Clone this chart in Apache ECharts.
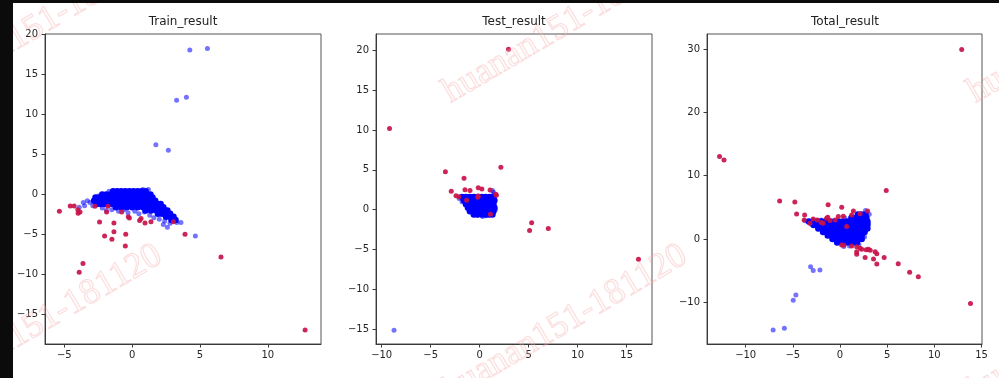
<!DOCTYPE html>
<html>
<head>
<meta charset="utf-8">
<script src="https://cdn.jsdelivr.net/npm/echarts@6/dist/echarts.min.js"></script>
<style>
html, body { margin: 0; padding: 0; background: #fff; }
#chart { width: 999px; height: 378px; }
</style>
</head>
<body>
<div id="chart"></div>
<script>
// titles and tick labels
const titles = ['Train_result', 'Test_result', 'Total_result'];
const trainXTicks = [-5, 0, 5, 10];
const trainYTicks = [-15, -10, -5, 0, 5, 10, 15, 20];
const testXTicks = [-10, -5, 0, 5, 10, 15];
const testYTicks = [-15, -10, -5, 0, 5, 10, 15, 20];
const totalXTicks = [-10, -5, 0, 5, 10, 15];
const totalYTicks = [-10, 0, 10, 20, 30];

// Train: dense blue body, lighter blue points, red points
const trainBlueCore = [
  [-1.4,0.4],[-1.1,0.4],[-0.8,0.4],[-0.5,0.4],[-0.2,0.4],[0.1,0.4],[0.4,0.4],[0.7,0.4],[1.0,0.4],
  [-2.2,0],[-1.9,0],[-1.6,0],[-1.3,0],[-1.0,0],[-0.7,0],[-0.4,0],[-0.1,0],[0.2,0],[0.5,0],[0.8,0],[1.1,0],[1.35,0],
  [-2.7,-0.4],[-2.4,-0.4],[-2.1,-0.4],[-1.8,-0.4],[-1.5,-0.4],[-1.2,-0.4],[-0.9,-0.4],[-0.6,-0.4],[-0.3,-0.4],[0,-0.4],[0.3,-0.4],[0.6,-0.4],[0.9,-0.4],[1.2,-0.4],[1.5,-0.4],
  [-2.8,-0.8],[-2.5,-0.8],[-2.2,-0.8],[-1.9,-0.8],[-1.6,-0.8],[-1.3,-0.8],[-1.0,-0.8],[-0.7,-0.8],[-0.4,-0.8],[-0.1,-0.8],[0.2,-0.8],[0.5,-0.8],[0.8,-0.8],[1.1,-0.8],[1.4,-0.8],[1.7,-0.8],
  [-2.6,-1.2],[-2.3,-1.2],[-2.0,-1.2],[-1.7,-1.2],[-1.4,-1.2],[-1.1,-1.2],[-0.8,-1.2],[-0.5,-1.2],[-0.2,-1.2],[0.1,-1.2],[0.4,-1.2],[0.7,-1.2],[1.0,-1.2],[1.3,-1.2],[1.6,-1.2],[1.9,-1.2],[2.1,-1.2],
  [-1.2,-1.6],[-0.8,-1.6],[-0.4,-1.6],[0,-1.6],[0.4,-1.6],[0.8,-1.6],[1.1,-1.6],[1.4,-1.6],[1.7,-1.6],[2.0,-1.6],[2.3,-1.6],
  [1.0,-2.0],[1.4,-2.0],[1.8,-2.0],[2.1,-2.0],[2.4,-2.0],[2.6,-2.0],
  [1.9,-2.4],[2.2,-2.4],[2.5,-2.4],[2.8,-2.4],
  [2.5,-2.8],[2.8,-2.8],[3.05,-2.8],
  [2.9,-3.2],[3.2,-3.2]
];
const trainBlue = [
  [4.25,18.0],[5.55,18.2],[3.28,11.75],[4.0,12.1],[1.75,6.2],[2.67,5.5],[4.66,-5.2],
  [-3.6,-1.0],[-3.1,-1.0],[-3.5,-1.4],[-3.3,-0.8],[-2.9,-1.4],[-3.9,-1.6],[-2.2,-1.7],[-1.9,-2.0],
  [-1.5,-1.9],[-1.0,-2.1],[-0.6,-1.9],[-0.3,-2.3],[0.2,-2.1],[0.5,-2.4],[0.9,-2.2],[1.3,-2.6],
  [1.6,-2.9],[2.0,-3.1],[2.4,-3.3],[2.8,-3.6],[3.3,-3.5],[3.6,-3.5],[2.3,-3.75],[2.6,-4.1],
  [-2.5,-0.2],[-1.7,0.4],[1.2,0.6],[0.8,0.6]
];
const trainRed = [
  [-5.36,-2.1],[-4.56,-1.46],[-4.27,-1.46],[-4.0,-1.9],[-3.98,-2.35],[-3.84,-2.18],[-2.74,-1.47],
  [-2.4,-3.45],[-2.03,-5.2],[-1.49,-5.58],[-1.34,-4.67],[-1.34,-3.55],[-0.47,-4.96],[-0.5,-6.42],
  [-3.9,-9.7],[-3.62,-8.6],[-1.88,-2.18],[-1.78,-1.47],[-0.77,-2.18],[-0.28,-2.8],[-0.2,-2.95],
  [0.55,-3.25],[0.66,-3.0],[0.95,-3.55],[1.39,-3.42],[3.05,-3.42],[3.9,-4.96],[6.55,-7.8],[12.75,-16.9]
];

// Test
const testBlueCore = [
  [-1.8,1.6],[-1.4,1.6],[-1.0,1.6],[-0.6,1.6],[-0.2,1.6],[0.2,1.6],[0.6,1.6],[1.0,1.6],[1.4,1.6],
  [-1.6,1.15],[-1.2,1.15],[-0.8,1.15],[-0.4,1.15],[0,1.15],[0.4,1.15],[0.8,1.15],[1.2,1.15],[1.5,1.15],
  [-1.4,0.7],[-1.0,0.7],[-0.6,0.7],[-0.2,0.7],[0.2,0.7],[0.6,0.7],[1.0,0.7],[1.4,0.7],
  [-1.2,0.25],[-0.8,0.25],[-0.4,0.25],[0,0.25],[0.4,0.25],[0.8,0.25],[1.2,0.25],[1.5,0.25],
  [-1.0,-0.2],[-0.6,-0.2],[-0.2,-0.2],[0.2,-0.2],[0.6,-0.2],[1.0,-0.2],[1.4,-0.2],
  [-0.6,-0.6],[-0.2,-0.6],[0.2,-0.6],[0.6,-0.6],[1.0,-0.6],[1.3,-0.6]
];
const testBlue = [
  [-8.74,-15.13],[-2.1,1.4],[-1.5,1.2],[-1.8,1.0],[1.3,2.4],[1.4,2.2],[1.5,1.9],[1.6,0.0],
  [0.7,-0.75],[0.3,-0.85],[-0.3,-0.7]
];
const testRed = [
  [2.94,20.16],[-9.2,10.2],[-3.5,4.78],[-1.6,3.95],[2.16,5.34],[-2.9,2.32],[-2.42,1.76],[-2.12,1.63],
  [-1.5,2.5],[-0.99,2.42],[-0.15,2.76],[0.22,2.6],[-0.14,1.72],[-0.2,1.55],[1.06,2.47],[1.7,1.82],
  [1.65,1.95],[1.1,-0.58],[-1.33,1.2],[5.09,-2.6],[5.3,-1.63],[7.0,-2.35],[16.2,-6.24]
];

// Total
const totalBlueCore = [
  [1.9,3.85],[2.3,3.85],[2.7,3.85],
  [1.2,3.3],[1.6,3.3],[2.0,3.3],[2.4,3.3],[2.8,3.3],
  [-3.3,2.75],[-2.85,2.75],[-2.4,2.75],[-1.95,2.75],[-1.5,2.75],[-1.05,2.75],[-0.6,2.75],[-0.15,2.75],[0.3,2.75],[0.75,2.75],[1.2,2.75],[1.65,2.75],[2.1,2.75],[2.55,2.75],[2.9,2.75],
  [-2.8,2.2],[-2.35,2.2],[-1.9,2.2],[-1.45,2.2],[-1.0,2.2],[-0.55,2.2],[-0.1,2.2],[0.35,2.2],[0.8,2.2],[1.25,2.2],[1.7,2.2],[2.15,2.2],[2.6,2.2],[2.9,2.2],
  [-2.3,1.65],[-1.85,1.65],[-1.4,1.65],[-0.95,1.65],[-0.5,1.65],[-0.05,1.65],[0.4,1.65],[0.85,1.65],[1.3,1.65],[1.75,1.65],[2.2,1.65],[2.6,1.65],[2.9,1.65],
  [-1.8,1.1],[-1.35,1.1],[-0.9,1.1],[-0.45,1.1],[0,1.1],[0.45,1.1],[0.9,1.1],[1.35,1.1],[1.8,1.1],[2.2,1.1],[2.6,1.1],
  [-1.3,0.55],[-0.85,0.55],[-0.4,0.55],[0.05,0.55],[0.5,0.55],[0.95,0.55],[1.4,0.55],[1.85,0.55],[2.3,0.55],
  [-0.8,0],[-0.35,0],[0.1,0],[0.55,0],[1.0,0],[1.45,0],[1.9,0],[2.3,0],
  [-0.3,-0.55],[0.15,-0.55],[0.6,-0.55],[1.05,-0.55],[1.5,-0.55],[1.8,-0.55]
];
const totalBlue = [
  [-3.12,-4.38],[-2.84,-5.0],[-2.13,-4.9],[-4.96,-9.67],[-4.68,-8.87],[-7.09,-14.4],[-5.9,-14.1],
  [-3.7,2.9],[3.1,3.9],[3.0,2.5],[2.7,4.5],[1.0,-1.1],[0.4,-1.2],[2.0,-0.9],[2.6,0.3],[-3.0,2.3],
  [0.5,3.3],[-2.0,3.0]
];
const totalRed = [
  [12.9,29.95],[-12.77,13.05],[-12.3,12.5],[13.83,-10.2],[4.9,7.66],[-6.4,6.0],[-4.79,5.84],[-4.6,3.96],
  [-3.75,3.8],[-3.8,3.0],[-1.26,5.42],[0.18,5.03],[1.42,4.44],[2.13,4.0],[2.92,4.42],[-3.19,2.49],
  [-2.84,3.17],[-2.41,3.0],[-2.0,2.6],[-1.42,3.28],[-1.3,3.45],[-1.06,2.91],[-0.18,3.55],[0.35,3.6],
  [1.24,3.81],[0.71,1.96],[0.18,-0.95],[0.4,-1.0],[1.24,-1.11],[1.77,-1.22],[1.77,-2.01],[1.77,-2.4],
  [2.3,-1.64],[2.77,-1.7],[3.2,-1.8],[3.72,-2.0],[3.9,-2.35],[2.66,-2.91],[3.55,-3.17],[3.9,-3.97],
  [4.68,-2.91],[6.17,-3.9],[7.38,-5.27],[8.3,-5.98],[-1.8,2.5],[-0.5,3.0],[2.13,-1.48],[3.0,-1.64]
];

const chart = echarts.init(document.getElementById('chart'));

const axisColor = '#3a3a3a';
const labelFont = { fontFamily: 'DejaVu Sans', fontSize: 10, color: '#262626' };
const minus = v => String(v).replace('-', '\u2212');

function axis(gridIndex, min, max, ticks, isY) {
  return {
    type: 'value', gridIndex, min, max,
    splitLine: { show: false },
    axisLine: { show: true, onZero: false, lineStyle: { color: axisColor, width: 1 } },
    axisTick: { show: true, inside: false, length: 3.5, lineStyle: { color: axisColor }, customValues: ticks },
    axisLabel: Object.assign({ margin: isY ? 7 : 6, formatter: minus, customValues: ticks,
      showMinLabel: true, showMaxLabel: true }, labelFont)
  };
}

function dots(data, idx, color, opacity, size) {
  return {
    type: 'scatter', xAxisIndex: idx, yAxisIndex: idx, data,
    symbolSize: size || 5, silent: true,
    itemStyle: { color, opacity, borderWidth: 0 }
  };
}

const blue = '#0000ff', red = '#c8124a';
const mark = (x, y) => ({
  type: 'text', x, y, rotation: 0.53, z: 100, silent: true,
  style: {
    text: 'huanan151-181120', font: '36px "Liberation Serif"',
    fill: 'rgba(255,225,225,0.18)', stroke: 'rgba(240,140,140,0.3)', lineWidth: 1,
    align: 'center', verticalAlign: 'middle', textAlign: 'center', textVerticalAlign: 'middle'
  }
});

chart.setOption({
  animation: false,
  backgroundColor: '#fff',
  title: [183, 514, 845].map((cx, i) => ({
    text: titles[i], left: cx, top: 16, padding: 0, textAlign: 'center',
    textStyle: { fontFamily: 'DejaVu Sans', fontSize: 12, fontWeight: 'normal', color: '#222' }
  })),
  grid: [
    { left: 45, top: 34, width: 276, height: 310 },
    { left: 376, top: 34, width: 276, height: 310 },
    { left: 707, top: 34, width: 275, height: 310 }
  ].map(g => Object.assign(g, { show: true, borderColor: '#555', borderWidth: 1, backgroundColor: 'transparent' })),
  xAxis: [
    axis(0, -6.42, 13.92, trainXTicks, false),
    axis(1, -10.58, 17.58, testXTicks, false),
    axis(2, -14.1, 15.05, totalXTicks, false)
  ],
  yAxis: [
    axis(0, -18.65, 20, trainYTicks, true),
    axis(1, -16.87, 22.07, testYTicks, true),
    axis(2, -16.6, 32.4, totalYTicks, true)
  ],
  series: [
    dots(trainBlue, 0, blue, 0.55), dots(trainBlueCore, 0, blue, 1, 6.5), dots(trainRed, 0, red, 0.92),
    dots(testBlue, 1, blue, 0.55), dots(testBlueCore, 1, blue, 1, 6.5), dots(testRed, 1, red, 0.92),
    dots(totalBlue, 2, blue, 0.55), dots(totalBlueCore, 2, blue, 1, 6.5), dots(totalRed, 2, red, 0.92)
  ],
  graphic: [
    mark(40, 25), mark(565, 25), mark(1090, 25),
    mark(40, 323), mark(565, 323), mark(1090, 323),
    { type: 'rect', z: 110, silent: true, shape: { x: 0, y: 0, width: 13, height: 378 }, style: { fill: '#0b0b0b' } },
    { type: 'rect', z: 110, silent: true, shape: { x: 0, y: 0, width: 999, height: 3 }, style: { fill: '#0b0b0b' } }
  ]
});
</script>
</body>
</html>
